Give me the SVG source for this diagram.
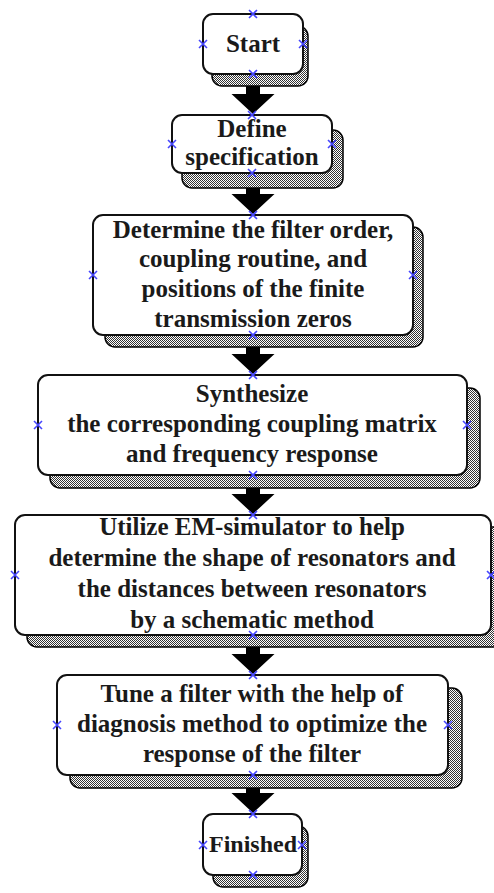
<svg xmlns="http://www.w3.org/2000/svg" width="494" height="893" viewBox="0 0 494 893">
<defs>
<pattern id="chk" width="2" height="2" patternUnits="userSpaceOnUse">
<rect width="2" height="2" fill="#fff"/>
<rect width="1" height="1" fill="#333"/>
<rect x="1" y="1" width="1" height="1" fill="#333"/>
</pattern>
<g id="xm"><path d="M-4,-4L4,4M-4,4L4,-4" stroke="#4646ff" stroke-width="1.6" fill="none"/></g>
</defs>
<style>
.sh{fill:url(#chk);stroke:#000;stroke-width:1.5}
.bx{fill:#fff;stroke:#111;stroke-width:2}
.t{font-family:"Liberation Serif","Times New Roman",serif;font-weight:bold;font-size:25px;fill:#1a1a1a;text-anchor:middle}
.ar{fill:#000}
</style>
<rect width="494" height="893" fill="#fff"/>
<g id="connectors">
<path class="ar" d="M246,74H260V94H274.5L253,114L231.5,94H246Z"/>
<path class="ar" d="M246,173H260V194H274.5L253,214L231.5,194H246Z"/>
<path class="ar" d="M246,335H260V354H274.5L253,374L231.5,354H246Z"/>
<path class="ar" d="M246,475H260V494H274.5L253,514L231.5,494H246Z"/>
<path class="ar" d="M246,635H260V654H274.5L253,674L231.5,654H246Z"/>
<path class="ar" d="M246,775H260V793H274.5L253,813L231.5,793H246Z"/>
</g>
<g id="n1">
<rect class="sh" x="212" y="26" width="96" height="60" rx="10"/>
<rect class="bx" x="203" y="14" width="100" height="60" rx="10"/>
<text class="t" x="253" y="52">Start</text>
<use href="#xm" x="253" y="14"/><use href="#xm" x="253" y="74"/><use href="#xm" x="203" y="44"/><use href="#xm" x="303" y="44"/>
</g>
<g id="n2">
<rect class="sh" x="182" y="130" width="161" height="58" rx="10"/>
<rect class="bx" x="172" y="115" width="160" height="58" rx="10"/>
<text class="t" x="252" y="137">Define</text>
<text class="t" x="252" y="165">specification</text>
<use href="#xm" x="252" y="115"/><use href="#xm" x="252" y="173"/><use href="#xm" x="172" y="144"/><use href="#xm" x="332" y="144"/>
</g>
<g id="n3">
<rect class="sh" x="105" y="227" width="318" height="120" rx="10"/>
<rect class="bx" x="93" y="215" width="320" height="120" rx="10"/>
<text class="t" x="253" y="238">Determine the filter order,</text>
<text class="t" x="253" y="267">coupling routine, and</text>
<text class="t" x="253" y="297">positions of the finite</text>
<text class="t" x="253" y="327">transmission zeros</text>
<use href="#xm" x="253" y="215"/><use href="#xm" x="253" y="335"/><use href="#xm" x="93" y="275"/><use href="#xm" x="413" y="275"/>
</g>
<g id="n4">
<rect class="sh" x="50" y="388" width="430" height="100" rx="10"/>
<rect class="bx" x="38" y="375" width="429" height="100" rx="10"/>
<text class="t" x="252" y="402">Synthesize</text>
<text class="t" x="252" y="432">the corresponding coupling matrix</text>
<text class="t" x="252" y="462">and frequency response</text>
<use href="#xm" x="253" y="375"/><use href="#xm" x="253" y="475"/><use href="#xm" x="38" y="425"/><use href="#xm" x="467" y="425"/>
</g>
<g id="n5">
<rect class="sh" x="27" y="527" width="477" height="120" rx="10"/>
<rect class="bx" x="15" y="515" width="476" height="120" rx="10"/>
<text class="t" x="252" y="535">Utilize EM-simulator to help</text>
<text class="t" x="252" y="566">determine the shape of resonators and</text>
<text class="t" x="252" y="597">the distances between resonators</text>
<text class="t" x="252" y="628">by a schematic method</text>
<use href="#xm" x="253" y="515"/><use href="#xm" x="253" y="635"/><use href="#xm" x="15" y="575"/><use href="#xm" x="491" y="575"/>
</g>
<g id="n6">
<rect class="sh" x="70" y="688" width="392" height="100" rx="10"/>
<rect class="bx" x="57" y="675" width="391" height="100" rx="10"/>
<text class="t" x="252" y="702">Tune a filter with the help of</text>
<text class="t" x="252" y="732">diagnosis method to optimize the</text>
<text class="t" x="252" y="762">response of the filter</text>
<use href="#xm" x="253" y="675"/><use href="#xm" x="253" y="775"/><use href="#xm" x="57" y="725"/><use href="#xm" x="448" y="725"/>
</g>
<g id="n7">
<rect class="sh" x="213" y="826" width="95" height="61" rx="10"/>
<rect class="bx" x="203" y="814" width="99" height="61" rx="10"/>
<text class="t" x="253" y="852" style="font-size:24px">Finished</text>
<use href="#xm" x="253" y="814"/><use href="#xm" x="253" y="875"/><use href="#xm" x="203" y="845"/><use href="#xm" x="302" y="845"/>
</g>
</svg>
